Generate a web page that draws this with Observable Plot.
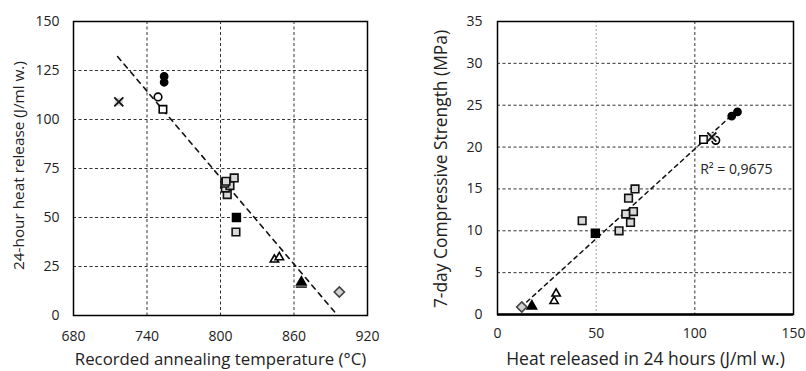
<!DOCTYPE html>
<html><head><meta charset="utf-8">
<script src="https://cdn.jsdelivr.net/npm/d3@7"></script>
<script src="https://cdn.jsdelivr.net/npm/@observablehq/plot@0.6"></script>
<style>
body{margin:0;background:#fff;}
#wrap{position:relative;width:806px;height:371px;font-family:"Open Sans",sans-serif;}
#left{position:absolute;left:0;top:0;}
#right{position:absolute;left:400px;top:0;}
</style></head>
<body><div id="wrap"><div id="left"></div><div id="right"></div></div>
<script>
// ---- data ----
const group = ["cross","filledCircle","filledCircle","openCircle","openSquare",
  "graySquare","graySquare","graySquare","graySquare","graySquare","graySquare","graySquare",
  "blackSquare","openTriangle","openTriangle","filledTriangle","grayDiamond"];
const temperature = [717, 754, 754, 749, 753, 812.6, 805.5, 804, 807.7, 803.5, 804.5, 811.2, 813, 844, 848, 866, 897];
const heat24h     = [109, 122, 119, 111.5, 105.2, 42.6, 61.7, 65, 66.3, 67.5, 68.5, 70.2, 50, 28.5, 29.7, 17, 12];
const heatRight   = [108.6, 121.6, 118.7, 110.6, 104.4, 42.9, 61.6, 65.0, 66.4, 67.4, 68.9, 69.7, 49.6, 28.7, 29.7, 17.4, 12.3];
const strength7d  = [21.2, 24.2, 23.7, 20.8, 20.9, 11.2, 10.0, 12.0, 13.9, 11.0, 12.3, 15.0, 9.7, 1.6, 2.5, 1.0, 0.9];
const dashTemp = [866], dashHeat = [14.5];
const trendLeftX = [716, 894], trendLeftY = [132.1, 1.2];
const trendRightX = [14.8, 122], trendRightY = [1.5, 24.5];
const xTicksLeft = [680, 740, 800, 860, 920];
const yTicksLeft = [0, 25, 50, 75, 100, 125, 150];
const xTicksRight = [0, 50, 100, 150];
const yTicksRight = [0, 5, 10, 15, 20, 25, 30, 35];
const r2Label = ["R² = 0,9675"], r2X = [102.7], r2Y = [17.3];

const styles = {
  cross:         {symbol:"square", fill:"#d9d9d9", stroke:"none", r:4.5},
  filledCircle:  {symbol:"circle", fill:"#000", stroke:"#000", r:3.6},
  openCircle:    {symbol:"circle", fill:"#fff", stroke:"#000", r:3.8},
  openSquare:    {symbol:"square", fill:"#fff", stroke:"#000", r:4.2},
  graySquare:    {symbol:"square", fill:"#d9d9d9", stroke:"#111", r:4.3},
  blackSquare:   {symbol:"square", fill:"#000", stroke:"#000", r:4.4},
  openTriangle:  {symbol:"triangle", fill:"#fff", stroke:"#000", r:3.1},
  filledTriangle:{symbol:"triangle", fill:"#000", stroke:"#000", r:3.5},
  grayDiamond:   {symbol:"diamond2", fill:"#d0d0d0", stroke:"#444", r:4.6}
};
const order = ["graySquare","openSquare","openCircle","cross","filledCircle","blackSquare","openTriangle","filledTriangle","grayDiamond"];
const idx = d3.range(group.length);
const dashSymbol = {draw(ctx, size){ const w = Math.sqrt(size)*0.9; ctx.moveTo(-w,0); ctx.lineTo(w,0); }};

function markers(xs, ys){
  const out = [];
  for (const g of order){
    const s = styles[g];
    out.push(Plot.dot(idx.filter(i=>group[i]===g), {x:i=>xs[i], y:i=>ys[i], symbol:s.symbol, fill:s.fill, stroke:s.stroke, r:s.r, strokeWidth:1.6}));
    if (g==="cross") out.push(Plot.dot(idx.filter(i=>group[i]===g), {x:i=>xs[i], y:i=>ys[i], symbol:"times", stroke:"#111", r:4.2, strokeWidth:1.8}));
  }
  return out;
}
const tickFont = 14;

const left = Plot.plot({
  width:400, height:371, marginLeft:73, marginRight:33, marginTop:21, marginBottom:56,
  style:{fontFamily:"'Open Sans',sans-serif", color:"#222", background:"#fff"},
  x:{domain:[680,920]}, y:{domain:[0,150]},
  marks:[
    Plot.gridX(xTicksLeft.slice(1,-1), {stroke:"#333", strokeOpacity:1, strokeDasharray:"3,2.5"}),
    Plot.gridY(yTicksLeft.slice(1,-1), {stroke:"#333", strokeOpacity:1, strokeDasharray:"3,2.5"}),
    Plot.axisX(xTicksLeft, {tickSize:0, tickPadding:16, fontSize:tickFont, label:null}),
    Plot.axisY(yTicksLeft, {tickSize:0, tickPadding:14, fontSize:tickFont, label:null}),
    Plot.line(d3.range(trendLeftX.length), {x:i=>trendLeftX[i], y:i=>trendLeftY[i], stroke:"#111", strokeWidth:1.6, strokeDasharray:"5,5"}),
    ...markers(temperature, heat24h),
    Plot.dot(d3.range(dashTemp.length), {x:i=>dashTemp[i], y:i=>dashHeat[i], symbol:dashSymbol, stroke:"#000", r:3.5, strokeWidth:1.4}),
    Plot.frame({stroke:"#000", strokeWidth:1.5}),
    Plot.text(["24-hour heat release (J/ml w.)"], {frameAnchor:"left", textAnchor:"middle", lineAnchor:"middle", dx:-54, dy:-3, rotate:-90, fontSize:15.3, fill:"#222"}),
    Plot.text(["Recorded annealing temperature (°C)"], {frameAnchor:"bottom", textAnchor:"middle", lineAnchor:"middle", dy:44, fontSize:16.8, fill:"#222"})
  ]
});
document.getElementById("left").append(left);

const right = Plot.plot({
  width:406, height:371, marginLeft:97, marginRight:13, marginTop:21, marginBottom:57,
  style:{fontFamily:"'Open Sans',sans-serif", color:"#222", background:"#fff"},
  x:{domain:[0,150]}, y:{domain:[0,35]},
  marks:[
    Plot.gridX([50], {stroke:"#999", strokeOpacity:1, strokeDasharray:"2,2"}),
    Plot.gridX([100], {stroke:"#333", strokeOpacity:1, strokeDasharray:"3,2.5"}),
    Plot.gridY(yTicksRight.slice(1,-1), {stroke:"#333", strokeOpacity:1, strokeDasharray:"3,2.5"}),
    Plot.axisX(xTicksRight, {tickSize:0, tickPadding:14, fontSize:tickFont, label:null}),
    Plot.axisY(yTicksRight, {tickSize:0, tickPadding:15, fontSize:tickFont, label:null}),
    Plot.line(d3.range(trendRightX.length), {x:i=>trendRightX[i], y:i=>trendRightY[i], stroke:"#111", strokeWidth:1.5, strokeDasharray:"4,4"}),
    ...markers(heatRight, strength7d),
    Plot.frame({stroke:"#000", strokeWidth:1.5}),
    Plot.ruleY([0], {stroke:"#000", strokeWidth:2.5}),
    Plot.text(d3.range(r2Label.length), {x:i=>r2X[i], y:i=>r2Y[i], text:i=>r2Label[i], textAnchor:"start", fontSize:14, fill:"#222"}),
    Plot.text(["7-day Compressive Strength (MPa)"], {frameAnchor:"left", textAnchor:"middle", lineAnchor:"middle", dx:-56, dy:1, rotate:-90, fontSize:17.4, fill:"#222"}),
    Plot.text(["Heat released in 24 hours (J/ml w.)"], {frameAnchor:"bottom", textAnchor:"middle", lineAnchor:"middle", dy:45, fontSize:17.5, fill:"#222"})
  ]
});
document.getElementById("right").append(right);
</script></body></html>
